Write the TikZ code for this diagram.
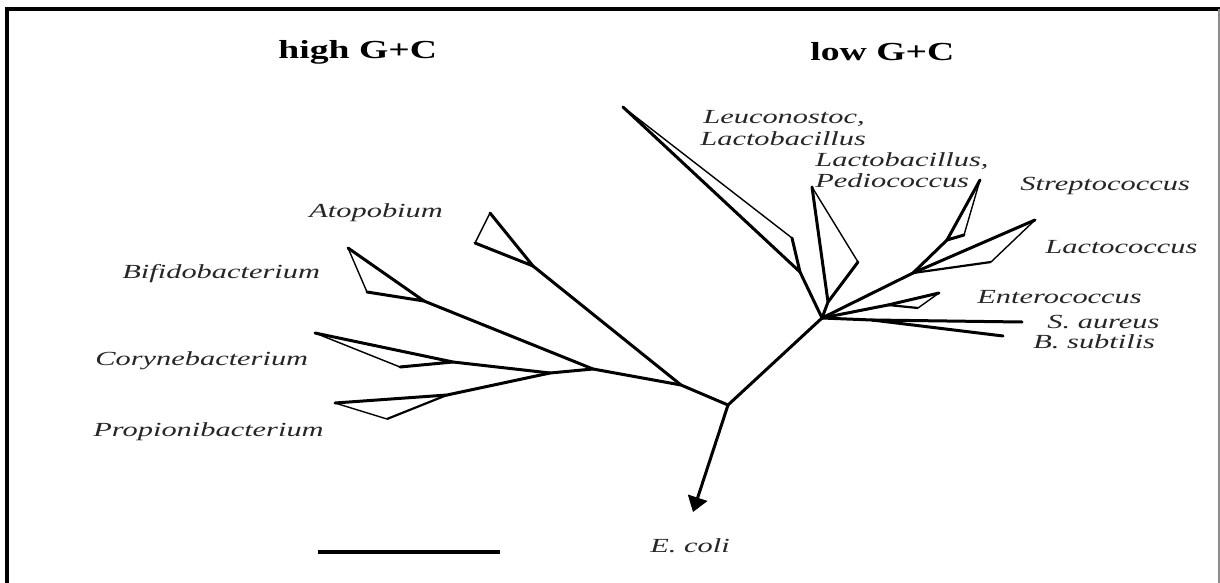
\documentclass[tikz,border=0pt]{standalone}
\usepackage{fontspec}
\setmainfont{Liberation Serif}
\usetikzlibrary{arrows.meta}
\newcommand{\lbl}[1]{\scalebox{1.52}[1]{\itshape #1}}
\newcommand{\hdr}[1]{\scalebox{1.45}[1]{\bfseries #1}}
\begin{document}
\begin{tikzpicture}[x=0.5pt,y=-0.5pt,
  branch/.style={line width=1.5pt,line join=round,line cap=round},
  wedge/.style={line width=0.7pt,line join=round},
  label/.style={anchor=west,inner sep=0pt,text=black!85,font=\fontsize{10}{12}\selectfont},
  header/.style={anchor=west,inner sep=0pt,text=black,font=\fontsize{13}{15}\selectfont}]
\useasboundingbox (0,0) rectangle (1220,583);
\fill[white] (0,0) rectangle (1220,583);
% frame
\draw[line width=2pt] (7,583) -- (7,9.5) -- (1220,9.5);
\draw[line width=0.8pt,black!45] (1219,9.5) -- (1219,583);

% coordinates
\coordinate (R) at (728,405);
\coordinate (E) at (693,512);
\coordinate (J1) at (681,385);
\coordinate (J2) at (593,369);
\coordinate (J3) at (550,373);
\coordinate (A) at (533,266); \coordinate (a1) at (490,213); \coordinate (a2) at (475,243);
\coordinate (B) at (424,301); \coordinate (b1) at (348,248); \coordinate (b2) at (367,292);
\coordinate (C) at (453,362); \coordinate (c1) at (315,333); \coordinate (c2) at (400,367);
\coordinate (P) at (447,395); \coordinate (p1) at (335,403); \coordinate (p2) at (387,419);
\coordinate (L) at (822,318);
\coordinate (LE) at (800,272); \coordinate (le1) at (623,107); \coordinate (le2) at (792,238);
\coordinate (PD) at (828,302); \coordinate (pd1) at (812,187); \coordinate (pd2) at (858,262);
\coordinate (SL) at (913,273);
\coordinate (S) at (947,240); \coordinate (s1) at (980,180); \coordinate (s2) at (964,235);
\coordinate (lc1) at (1035,220); \coordinate (lc2) at (991,262);
\coordinate (EN) at (888,305); \coordinate (en1) at (939,293); \coordinate (en2) at (918,308);
\coordinate (BS) at (872,320);
\coordinate (sa) at (1022,322); \coordinate (bs) at (1003,336);
\coordinate (sb1) at (318,552); \coordinate (sb2) at (500,552);

% high G+C
\draw[branch,-{Triangle[length=7.5pt,width=10pt]}] (R) -- (E);
\draw[branch] (R) -- (J1) -- (J2) -- (J3);
\draw[branch] (J1) -- (A);
\draw[branch] (a1) -- (A) -- (a2); \draw[wedge] (a1) -- (a2);
\draw[branch] (J2) -- (B);
\draw[branch] (b1) -- (B) -- (b2); \draw[wedge] (b1) -- (b2);
\draw[branch] (J3) -- (C);
\draw[branch] (c1) -- (C) -- (c2); \draw[wedge] (c1) -- (c2);
\draw[branch] (J3) -- (P);
\draw[branch] (p1) -- (P); \draw[line width=1.1pt] (P) -- (p2); \draw[wedge] (p1) -- (p2);

% low G+C
\draw[branch] (R) -- (L);
\draw[branch] (L) -- (LE);
\draw[branch] (le1) -- (LE) -- (le2); \draw[wedge] (le1) -- (le2);
\draw[branch] (L) -- (PD);
\draw[branch] (pd1) -- (PD) -- (pd2); \draw[wedge] (pd1) -- (pd2);
\draw[branch] (L) -- (SL) -- (S);
\draw[branch] (s1) -- (S) -- (s2); \draw[wedge] (s1) -- (s2);
\draw[branch] (SL) -- (lc1); \draw[line width=1.1pt] (SL) -- (lc2); \draw[wedge] (lc1) -- (lc2);
\draw[branch] (L) -- (EN);
\draw[branch] (en1) -- (EN); \draw[line width=1.1pt] (EN) -- (en2); \draw[wedge] (en1) -- (en2);
\draw[branch] (L) -- (BS) -- (sa);
\draw[branch] (BS) -- (bs);

% scale bar
\draw[line width=1.8pt] (sb1) -- (sb2);

% headers
\node[header] (hgc) at (278,52) {\hdr{high G+C}};
\node[header] (lgc) at (810,52) {\hdr{low G+C}};

% labels
\node[label] (leuc) at (703,118) {\lbl{Leuconostoc,}};
\node[label] (lacto1) at (700,139) {\lbl{Lactobacillus}};
\node[label] (lacto2) at (815,161) {\lbl{Lactobacillus,}};
\node[label] (pedio) at (815,181) {\lbl{Pediococcus}};
\node[label] (strep) at (1020,186) {\lbl{Streptococcus}};
\node[label] (lacco) at (1045,247) {\lbl{Lactococcus}};
\node[label] (entero) at (977,297) {\lbl{Enterococcus}};
\node[label] (saur) at (1047,322) {\lbl{S. aureus}};
\node[label] (bsub) at (1033,342) {\lbl{B. subtilis}};
\node[label] (atop) at (309,213) {\lbl{Atopobium}};
\node[label] (bifi) at (122,274) {\lbl{Bifidobacterium}};
\node[label] (cory) at (95,361) {\lbl{Corynebacterium}};
\node[label] (prop) at (93,432) {\lbl{Propionibacterium}};
\node[label] (ecoli) at (650,546) {\lbl{E. coli}};
\end{tikzpicture}
\end{document}
